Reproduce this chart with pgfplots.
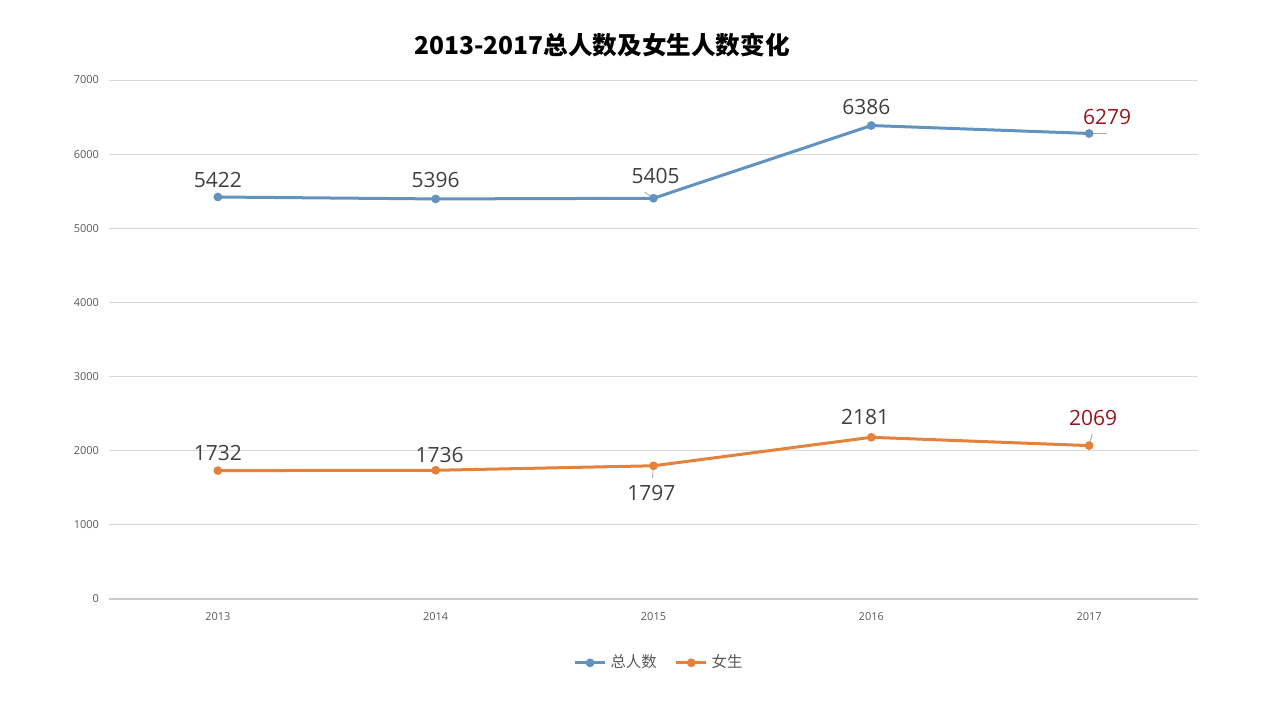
\documentclass[border=0pt]{standalone}
\usepackage{fontspec}
\usepackage{pgfplots}
\pgfplotsset{compat=1.18}
\setmainfont{Open Sans}
\newfontfamily\cjk{Noto Sans CJK SC}

\definecolor{totalblue}{RGB}{98,147,192}
\definecolor{femaleorange}{RGB}{228,129,58}
\definecolor{labelgray}{RGB}{64,64,64}
\definecolor{labelred}{RGB}{150,22,30}
\definecolor{tickgray}{RGB}{89,89,89}

\begin{document}
\begin{tikzpicture}
\path[use as bounding box] (0,0) rectangle (640pt,360pt);
\node[font=\cjk\bfseries\fontsize{12.3}{15}\selectfont] at (301pt,337.5pt) {2013-2017总人数及女生人数变化};
\begin{axis}[
    at={(54.5pt,60.5pt)}, anchor=south west,
    scale only axis,
    width=544.5pt, height=259.5pt,
    xmin=-0.5, xmax=4.5,
    ymin=0, ymax=7000,
    xtick={0,1,2,3,4},
    xticklabels={2013,2014,2015,2016,2017},
    ytick={0,1000,...,7000},
    /pgf/number format/assume math mode=true,
    /pgf/number format/1000 sep={},
    ymajorgrids,
    grid style={draw=black!15, line width=0.5pt},
    axis x line*=bottom,
    axis y line*=left,
    x axis line style={draw=black!20, line width=0.6pt},
    y axis line style={draw=none},
    major tick length=0pt,
    tick label style={font=\fontsize{5.5}{6.5}\selectfont, text=tickgray},
    xticklabel style={yshift=-3pt},
    yticklabel style={xshift=-1.5pt},
    legend style={at={(0.506,-0.123)}, anchor=center, draw=none, fill=none,
        legend columns=2, font=\cjk\fontsize{7.7}{9}\selectfont, text=tickgray,
        /tikz/every even column/.append style={column sep=7pt}},
    legend image code/.code={\draw[mark repeat=2,mark phase=2] plot coordinates {(0pt,0pt)(7.5pt,0pt)(15pt,0pt)};},
]
\addplot[totalblue, line width=1.5pt, mark=*, mark size=1.4pt] coordinates {
    (0,5422) (1,5396) (2,5405) (3,6386) (4,6279)
};
\addlegendentry{总人数}
\addplot[femaleorange, line width=1.5pt, mark=*, mark size=1.4pt] coordinates {
    (0,1732) (1,1736) (2,1797) (3,2181) (4,2069)
};
\addlegendentry{女生}

% leader lines
\draw[black!35, line width=0.4pt] (axis cs:2,5405) -- (axis cs:1.959,5489);
\draw[black!35, line width=0.4pt] (axis cs:4,6279) -- (axis cs:4.083,6279);
\draw[black!35, line width=0.4pt] (axis cs:2,1797) -- (axis cs:1.995,1632);
\draw[black!35, line width=0.4pt] (axis cs:4,2069) -- (axis cs:4.014,2225);

% data labels
\begin{scope}[every node/.style={font=\fontsize{10.5}{12}\selectfont, text=labelgray}]
\node at (axis cs:0,5652) {5422};
\node at (axis cs:1,5652) {5396};
\node at (axis cs:2.01,5706) {5405};
\node at (axis cs:2.977,6637) {6386};
\node[text=labelred] at (axis cs:4.083,6502) {6279};
\node at (axis cs:0,1970) {1732};
\node at (axis cs:1.018,1943) {1736};
\node at (axis cs:1.99,1430) {1797};
\node at (axis cs:2.972,2455) {2181};
\node[text=labelred] at (axis cs:4.018,2442) {2069};
\end{scope}
\end{axis}
\end{tikzpicture}
\end{document}
